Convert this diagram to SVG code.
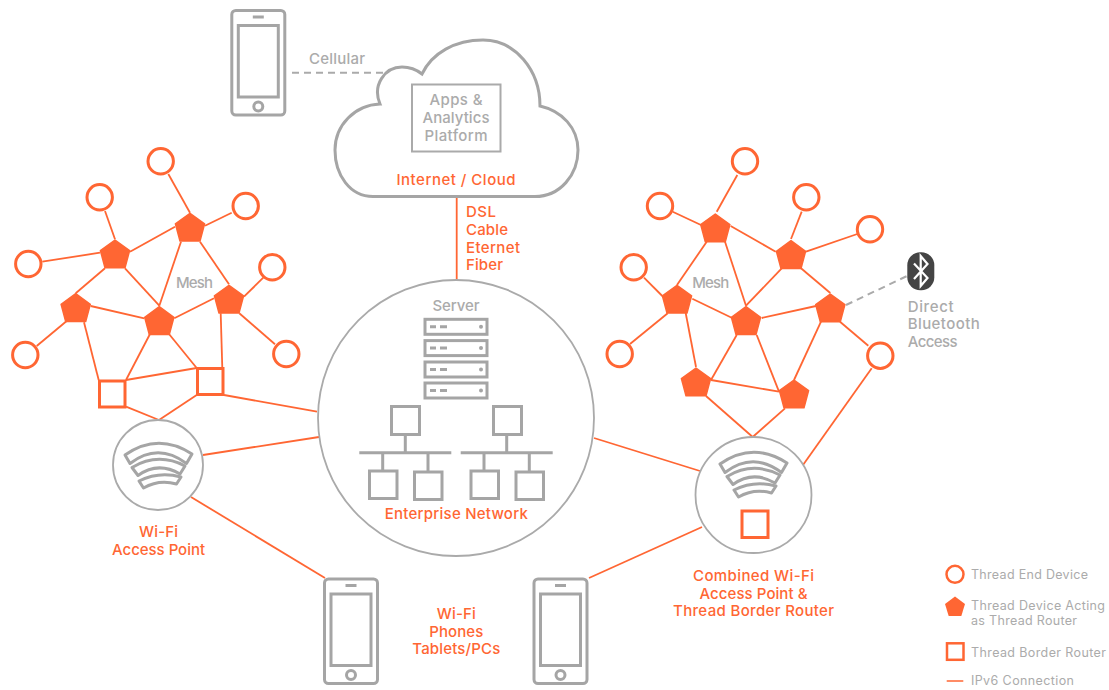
<svg xmlns="http://www.w3.org/2000/svg" xmlns:xlink="http://www.w3.org/1999/xlink" width="1109" height="690" viewBox="0 0 1109 690">
<style>
text{font-family:"Inter","Liberation Sans",sans-serif;font-size:15px;font-weight:500}
.o{fill:#ff6633}
.g{fill:#ababab}
.m{text-anchor:middle}
.leg{font-size:12.500px;font-weight:400;fill:#ababab}
.e{stroke:#ff6633;stroke-width:1.800;fill:none}
.d{stroke:#aaaaaa;stroke-width:2;stroke-dasharray:7 5;fill:none}
.end{fill:#fff;stroke:#ff6633;stroke-width:3}
.rt{fill:#ff6633;stroke:#ff6633;stroke-width:1.500;stroke-linejoin:round}
.br{fill:#fff;stroke:#ff6633;stroke-width:3}
.ic{fill:#fff;stroke:#a5a5a5;stroke-width:3}
.icn{fill:none;stroke:#a5a5a5;stroke-width:3}
.ring{fill:#fff;stroke:#aaaaaa;stroke-width:1.800}
</style>
<defs>
<polygon id="pent" points="0,-14 14.600,-3.400 10,13.800 -10,13.800 -14.600,-3.400"/>
<g id="phone">
<rect class="ic" x="1.500" y="1.500" width="53" height="104.500" rx="4"/>
<rect class="ic" x="8" y="16.500" width="40" height="71.500"/>
<line class="icn" x1="22.500" y1="8" x2="33.500" y2="8"/>
<circle class="ic" cx="28" cy="97.500" r="4.500"/>
</g>
<g id="wifi" class="icn" stroke-linejoin="round">
<path d="M720 464Q753 441 787 463L781.500 472.500Q753 451 725 472.500Z"/>
<path d="M727 476.500Q753 461 780 475L775 483Q753 470 733 484.500Z"/>
<path d="M734 490Q754 480 776 486L771.500 493Q754 488 738.500 497Z"/>
</g>
<g id="rack">
<rect class="ic" x="0" y="0" width="62" height="15"/>
<path class="icn" d="M5 7.500H11M15 7.500H22" stroke-width="2.500"/>
<circle cx="56" cy="7.500" r="2" fill="#a5a5a5"/>
</g>
</defs>

<g id="connectors">
<line class="e" x1="168.300" y1="174" x2="190" y2="212.700"/>
<line class="e" x1="231.700" y1="212.700" x2="205" y2="225.700"/>
<line class="e" x1="105" y1="211" x2="115" y2="239.300"/>
<line class="e" x1="42.300" y1="261.700" x2="100" y2="252.700"/>
<line class="e" x1="130" y1="251.700" x2="175" y2="226.700"/>
<line class="e" x1="105" y1="268.300" x2="75.700" y2="293.300"/>
<line class="e" x1="125" y1="268.300" x2="159.300" y2="305.700"/>
<line class="e" x1="181" y1="241.700" x2="159.300" y2="305.700"/>
<line class="e" x1="200" y1="241.700" x2="229" y2="284.300"/>
<line class="e" x1="263.300" y1="277.700" x2="244" y2="296.700"/>
<line class="e" x1="275" y1="344.300" x2="239.300" y2="313.300"/>
<line class="e" x1="36.700" y1="346" x2="66.700" y2="321"/>
<line class="e" x1="90.700" y1="306" x2="144.300" y2="318.300"/>
<line class="e" x1="174.300" y1="318.300" x2="214" y2="298.300"/>
<line class="e" x1="84" y1="322.300" x2="98.700" y2="380"/>
<line class="e" x1="150" y1="334" x2="126" y2="380"/>
<line class="e" x1="169" y1="334" x2="196.700" y2="368"/>
<line class="e" x1="220.700" y1="313.300" x2="222.300" y2="368"/>
<line class="e" x1="126" y1="380" x2="196.700" y2="368"/>
<line class="e" x1="126" y1="406.700" x2="159" y2="420"/>
<line class="e" x1="196.700" y1="395" x2="159" y2="420"/>
<line class="e" x1="224" y1="395" x2="317" y2="411.700"/>
<line class="e" x1="203" y1="455" x2="319" y2="437"/>
<line class="e" x1="191" y1="497" x2="325" y2="578"/>
<line class="e" x1="456.700" y1="197" x2="456.700" y2="280"/>
<line class="e" x1="594" y1="438" x2="700" y2="471"/>
<line class="e" x1="702" y1="527" x2="589" y2="578"/>
<line class="e" x1="871.700" y1="368.300" x2="803" y2="465"/>
<line class="e" x1="706" y1="396" x2="752.700" y2="437"/>
<line class="e" x1="785" y1="408.300" x2="752.700" y2="437"/>
<line class="e" x1="737.300" y1="175" x2="716.700" y2="211.700"/>
<line class="e" x1="672.700" y1="211.700" x2="701" y2="225"/>
<line class="e" x1="730.700" y1="226" x2="775.700" y2="251.700"/>
<line class="e" x1="801.700" y1="211.700" x2="791" y2="239"/>
<line class="e" x1="857.300" y1="234" x2="806" y2="251.700"/>
<line class="e" x1="706.700" y1="241.700" x2="677" y2="285"/>
<line class="e" x1="725" y1="241.700" x2="746" y2="305.700"/>
<line class="e" x1="781.700" y1="268.300" x2="746" y2="305.700"/>
<line class="e" x1="801" y1="268.300" x2="830.300" y2="293"/>
<line class="e" x1="644" y1="277.700" x2="662.300" y2="296"/>
<line class="e" x1="630" y1="344" x2="667.700" y2="313.300"/>
<line class="e" x1="692.300" y1="298.700" x2="731.700" y2="317.700"/>
<line class="e" x1="761.700" y1="318" x2="816" y2="306"/>
<line class="e" x1="840" y1="321.700" x2="868.300" y2="345.700"/>
<line class="e" x1="821" y1="321.700" x2="794" y2="380"/>
<line class="e" x1="736.700" y1="335" x2="711" y2="380"/>
<line class="e" x1="756.700" y1="335" x2="779" y2="391.700"/>
<line class="e" x1="685.700" y1="313" x2="696" y2="367"/>
<line class="e" x1="711" y1="380" x2="779" y2="391.700"/>
<line class="d" x1="846" y1="305" x2="907" y2="276"/>
<line class="d" x1="292" y1="72.700" x2="386" y2="72.700"/>
</g>

<g id="phone-cellular"><use href="#phone" xlink:href="#phone" x="230.300" y="9"/></g>
<g id="phone-left"><use href="#phone" xlink:href="#phone" x="323" y="577.500"/></g>
<g id="phone-right"><use href="#phone" xlink:href="#phone" x="532.500" y="577.500"/></g>
<text class="g m" x="337" y="64" textLength="56">Cellular</text>

<g id="cloud">
<path d="M373 196.500C350 196.500 335 175 335 150C335 125 355 105 380 104C372 85 385 67 402 67C410 67 417 70 422 74C432 53 455 40 483 40C515 40 540 70 540 106C562 111 578 128 578 150C578 175 560 196.500 535 196.500Z" fill="#fff" stroke="#a5a5a5" stroke-width="3"/>
<rect x="412" y="84.500" width="88.500" height="67" fill="#fff" stroke="#aaaaaa" stroke-width="2"/>
<text class="g m" x="456" y="105" textLength="53">Apps &amp;</text>
<text class="g m" x="456" y="123" textLength="67">Analytics</text>
<text class="g m" x="456" y="141" textLength="63">Platform</text>
<text class="o m" x="456" y="185" textLength="119">Internet / Cloud</text>
</g>
<g id="link-label">
<text class="o" x="466" y="216.700" textLength="30">DSL</text>
<text class="o" x="466" y="235" textLength="42">Cable</text>
<text class="o" x="466" y="252.500" textLength="54">Eternet</text>
<text class="o" x="466" y="270" textLength="37">Fiber</text>
</g>

<g id="mesh-left">
<text class="g" x="176" y="288" textLength="37">Mesh</text>
<circle class="end" cx="160.700" cy="161.300" r="12.700"/>
<circle class="end" cx="99.700" cy="197.300" r="12.700"/>
<circle class="end" cx="245.700" cy="206" r="12.700"/>
<circle class="end" cx="28.300" cy="264" r="12.700"/>
<circle class="end" cx="272.300" cy="267.300" r="12.700"/>
<circle class="end" cx="25.300" cy="355" r="12.700"/>
<circle class="end" cx="286.300" cy="354" r="12.700"/>
<use class="rt" href="#pent" xlink:href="#pent" x="190" y="227.300"/>
<use class="rt" href="#pent" xlink:href="#pent" x="115" y="254"/>
<use class="rt" href="#pent" xlink:href="#pent" x="75.700" y="307.700"/>
<use class="rt" href="#pent" xlink:href="#pent" x="159.300" y="320.700"/>
<use class="rt" href="#pent" xlink:href="#pent" x="229" y="299.300"/>
<rect class="br" x="99.500" y="381" width="25.500" height="26"/>
<rect class="br" x="197.500" y="368.500" width="25.500" height="26"/>
</g>

<g id="mesh-right">
<text class="g" x="692.300" y="288" textLength="37">Mesh</text>
<circle class="end" cx="745" cy="161.300" r="12.700"/>
<circle class="end" cx="660" cy="206" r="12.700"/>
<circle class="end" cx="806.300" cy="197.300" r="12.700"/>
<circle class="end" cx="870" cy="229.300" r="12.700"/>
<circle class="end" cx="633.700" cy="267.300" r="12.700"/>
<circle class="end" cx="619.700" cy="354" r="12.700"/>
<circle class="end" cx="880.300" cy="355.700" r="12.700"/>
<use class="rt" href="#pent" xlink:href="#pent" x="715.300" y="228"/>
<use class="rt" href="#pent" xlink:href="#pent" x="791" y="254.700"/>
<use class="rt" href="#pent" xlink:href="#pent" x="677" y="299.300"/>
<use class="rt" href="#pent" xlink:href="#pent" x="746" y="320.700"/>
<use class="rt" href="#pent" xlink:href="#pent" x="830.300" y="308"/>
<use class="rt" href="#pent" xlink:href="#pent" x="696" y="382"/>
<use class="rt" href="#pent" xlink:href="#pent" x="794" y="394"/>
</g>

<g id="bluetooth">
<rect x="907.300" y="252.300" width="27" height="38" rx="13" fill="#444"/>
<path d="M914 263.500L927.500 278L920.700 286V256L927.500 264L914 279" fill="none" stroke="#fff" stroke-width="2.200"/>
<text class="g" x="907.700" y="311.700" textLength="46">Direct</text>
<text class="g" x="907.700" y="329.300" textLength="72">Bluetooth</text>
<text class="g" x="907.700" y="346.700" textLength="50">Access</text>
</g>

<g id="wifi-ap">
<circle class="ring" cx="158" cy="465" r="45"/>
<use href="#wifi" xlink:href="#wifi" x="-595" y="-9"/>
<text class="o m" x="158.500" y="537" textLength="39">Wi-Fi</text>
<text class="o m" x="158.500" y="555" textLength="93">Access Point</text>
</g>

<g id="enterprise">
<circle class="ring" cx="456" cy="418" r="138"/>
<text class="g m" x="456" y="310.700" textLength="47">Server</text>
<use href="#rack" xlink:href="#rack" x="425" y="319.300"/>
<use href="#rack" xlink:href="#rack" x="425" y="340.600"/>
<use href="#rack" xlink:href="#rack" x="425" y="362"/>
<use href="#rack" xlink:href="#rack" x="425" y="383"/>
<path class="icn" d="M405.300 434V452.700M359.300 452.700H451.300M382.700 452.700V471M428 452.700V472M506.700 434V452.700M460.700 452.700H552.700M484 452.700V471M529.300 452.700V472"/>
<rect class="ic" x="391.500" y="406.500" width="28" height="28"/>
<rect class="ic" x="493.500" y="406.500" width="28" height="28"/>
<rect class="ic" x="369.500" y="471" width="27.500" height="27.500"/>
<rect class="ic" x="414.500" y="472" width="27.500" height="27.500"/>
<rect class="ic" x="471" y="471" width="27.500" height="27.500"/>
<rect class="ic" x="516" y="472" width="27.500" height="27.500"/>
<text class="o m" x="456.300" y="518.700" textLength="143">Enterprise Network</text>
</g>

<g id="combined-ap">
<circle class="ring" cx="753.500" cy="495" r="58"/>
<use href="#wifi" xlink:href="#wifi"/>
<rect class="br" x="742" y="511" width="26" height="26.500"/>
<text class="o m" x="753.500" y="581" textLength="121">Combined Wi-Fi</text>
<text class="o m" x="753.500" y="599" textLength="108">Access Point &amp;</text>
<text class="o m" x="753.500" y="616" textLength="161">Thread Border Router</text>
</g>

<g id="devices-label">
<text class="o m" x="456.300" y="618.700" textLength="39">Wi-Fi</text>
<text class="o m" x="456.300" y="636.700" textLength="54">Phones</text>
<text class="o m" x="456.300" y="654.300" textLength="88">Tablets/PCs</text>
</g>

<g id="legend">
<circle cx="955" cy="574.300" r="8.500" fill="#fff" stroke="#ff6633" stroke-width="2.500"/>
<text class="leg" x="971" y="579.300" textLength="117">Thread End Device</text>
<polygon points="955,596.500 965,604 961.300,616 948.700,616 945,604" fill="#ff6633"/>
<text class="leg" x="971" y="610" textLength="134">Thread Device Acting</text>
<text class="leg" x="971" y="625" textLength="106">as Thread Router</text>
<rect x="947" y="643.300" width="16.500" height="16.500" fill="#fff" stroke="#ff6633" stroke-width="2.500"/>
<text class="leg" x="971" y="656.700" textLength="135">Thread Border Router</text>
<line x1="946.700" y1="681" x2="963.300" y2="681" stroke="#ff6633" stroke-width="1.500"/>
<text class="leg" x="971" y="685" textLength="103">IPv6 Connection</text>
</g>
</svg>
